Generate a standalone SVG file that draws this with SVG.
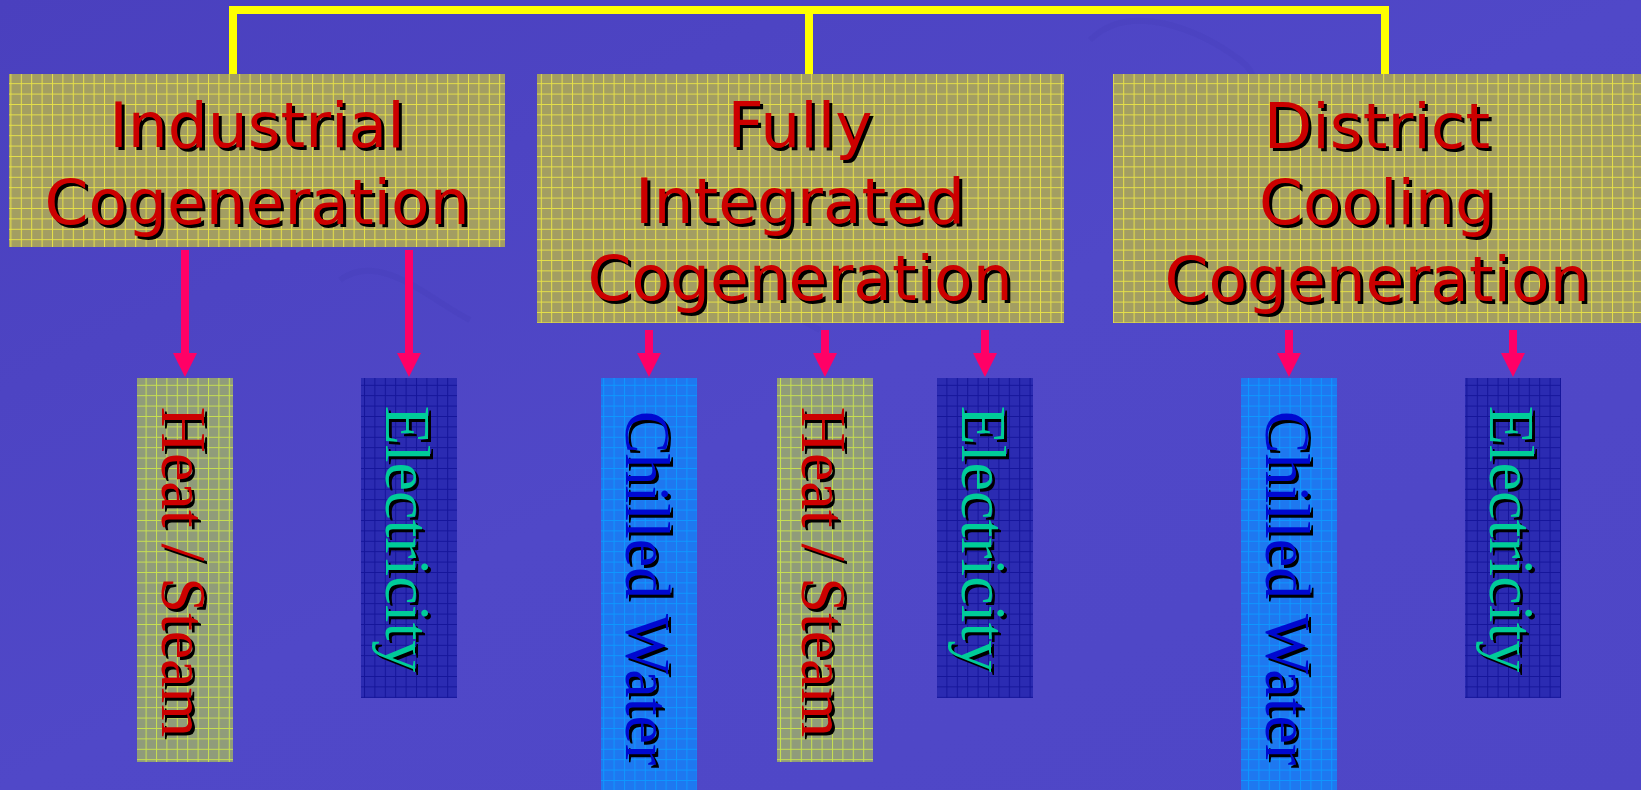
<svg xmlns="http://www.w3.org/2000/svg" width="1641" height="790" viewBox="0 0 1641 790">
  <defs>
    <linearGradient id="bg" x1="0" y1="0" x2="1" y2="1">
      <stop offset="0" stop-color="#4A40BE"/>
      <stop offset="0.5" stop-color="#5048C8"/>
      <stop offset="1" stop-color="#4E46C6"/>
    </linearGradient>
    <pattern id="gridMain" width="10.4" height="10.4" patternUnits="userSpaceOnUse">
      <rect width="10.4" height="10.4" fill="#A39E62"/>
      <path d="M0.5,0 V10.4 M0,0.5 H10.4" stroke="#E6E048" stroke-width="1"/>
    </pattern>
    <pattern id="gridHeat" width="10.4" height="10.4" patternUnits="userSpaceOnUse">
      <rect width="10.4" height="10.4" fill="#909C7A"/>
      <path d="M0.5,0 V10.4 M0,0.5 H10.4" stroke="#C8E050" stroke-width="1"/>
    </pattern>
    <pattern id="gridElec" width="10.4" height="10.4" patternUnits="userSpaceOnUse">
      <rect width="10.4" height="10.4" fill="#2B2BB2"/>
      <path d="M0.5,0 V10.4 M0,0.5 H10.4" stroke="#15159A" stroke-width="1"/>
    </pattern>
    <pattern id="gridChill" width="10.4" height="10.4" patternUnits="userSpaceOnUse">
      <rect width="10.4" height="10.4" fill="#1E78F0"/>
      <path d="M0.5,0 V10.4 M0,0.5 H10.4" stroke="#0E98FF" stroke-width="1"/>
    </pattern>
    <marker id="arrow" viewBox="0 0 24 24" markerWidth="24" markerHeight="24" markerUnits="userSpaceOnUse" refX="0" refY="12" orient="auto">
      <path d="M0,0 L24,12 L0,24 z" fill="#FF0066"/>
    </marker>
  </defs>
  <style>
    .main { font-family: "DejaVu Sans", Verdana, sans-serif; font-size: 63px; text-anchor: middle; }
    .fg { fill: #CC0000; }
    .sh { fill: #000000; }
    .vert { font-family: "Liberation Serif", "Times New Roman", serif; font-size: 64px; text-anchor: middle; }
    .heat { fill: #CC0000; }
    .elec { fill: #00CC99; }
    .chill { fill: #0008D0; }
    .bracket { fill: none; stroke: #FFFF00; stroke-width: 8; }
    .arr { stroke: #FF0066; stroke-width: 8; marker-end: url(#arrow); }
  </style>

  <rect width="1641" height="790" fill="url(#bg)"/>
  <g opacity="0.06" fill="none" stroke="#2A2090" stroke-width="6">
    <path d="M1090,40 C1130,0 1200,30 1240,60 C1280,90 1230,140 1180,120"/>
    <path d="M650,260 C700,240 760,300 820,330"/>
    <path d="M340,280 C380,250 430,300 470,320"/>
  </g>

  <g id="connectors">
    <path class="bracket" d="M233,74 V10 H1385 V74"/>
    <path class="bracket" d="M809,10 V74"/>
    <line class="arr" x1="185" y1="250" x2="185" y2="353"/>
    <line class="arr" x1="409" y1="250" x2="409" y2="353"/>
    <line class="arr" x1="649" y1="330" x2="649" y2="353"/>
    <line class="arr" x1="825" y1="330" x2="825" y2="353"/>
    <line class="arr" x1="985" y1="330" x2="985" y2="353"/>
    <line class="arr" x1="1289" y1="330" x2="1289" y2="353"/>
    <line class="arr" x1="1513" y1="330" x2="1513" y2="353"/>
  </g>

  <g id="industrial">
    <rect x="9" y="74" width="496" height="173" fill="url(#gridMain)"/>
    <text class="main sh" x="260" y="150">Industrial</text>
    <text class="main sh" x="260" y="227">Cogeneration</text>
    <text class="main fg" x="257" y="147">Industrial</text>
    <text class="main fg" x="257" y="224">Cogeneration</text>
  </g>

  <g id="fully-integrated">
    <rect x="537" y="74" width="527" height="249" fill="url(#gridMain)"/>
    <text class="main sh" x="803" y="150">Fully</text>
    <text class="main sh" x="803" y="226">Integrated</text>
    <text class="main sh" x="803" y="303">Cogeneration</text>
    <text class="main fg" x="800" y="147">Fully</text>
    <text class="main fg" x="800" y="223">Integrated</text>
    <text class="main fg" x="800" y="300">Cogeneration</text>
  </g>

  <g id="district-cooling">
    <rect x="1113" y="74" width="528" height="249" fill="url(#gridMain)"/>
    <text class="main sh" x="1380" y="151">District</text>
    <text class="main sh" x="1380" y="227">Cooling</text>
    <text class="main sh" x="1380" y="304">Cogeneration</text>
    <text class="main fg" x="1377" y="148">District</text>
    <text class="main fg" x="1377" y="224">Cooling</text>
    <text class="main fg" x="1377" y="301">Cogeneration</text>
  </g>

  <g id="heat-steam-1">
    <rect x="137" y="378" width="96" height="384" fill="url(#gridHeat)"/>
    <text class="vert sh" transform="translate(165,575) rotate(90)">Heat / Steam</text>
    <text class="vert heat" transform="translate(162,572) rotate(90)">Heat / Steam</text>
  </g>

  <g id="electricity-1">
    <rect x="361" y="378" width="96" height="320" fill="url(#gridElec)"/>
    <text class="vert sh" transform="translate(389,542) rotate(90)">Electricity</text>
    <text class="vert elec" transform="translate(386,539) rotate(90)">Electricity</text>
  </g>

  <g id="chilled-water-1">
    <rect x="601" y="378" width="96" height="412" fill="url(#gridChill)"/>
    <text class="vert sh" transform="translate(629,591) rotate(90)">Chilled Water</text>
    <text class="vert chill" transform="translate(626,588) rotate(90)">Chilled Water</text>
  </g>

  <g id="heat-steam-2">
    <rect x="777" y="378" width="96" height="384" fill="url(#gridHeat)"/>
    <text class="vert sh" transform="translate(805,575) rotate(90)">Heat / Steam</text>
    <text class="vert heat" transform="translate(802,572) rotate(90)">Heat / Steam</text>
  </g>

  <g id="electricity-2">
    <rect x="937" y="378" width="96" height="320" fill="url(#gridElec)"/>
    <text class="vert sh" transform="translate(965,542) rotate(90)">Electricity</text>
    <text class="vert elec" transform="translate(962,539) rotate(90)">Electricity</text>
  </g>

  <g id="chilled-water-2">
    <rect x="1241" y="378" width="96" height="412" fill="url(#gridChill)"/>
    <text class="vert sh" transform="translate(1269,591) rotate(90)">Chilled Water</text>
    <text class="vert chill" transform="translate(1266,588) rotate(90)">Chilled Water</text>
  </g>

  <g id="electricity-3">
    <rect x="1465" y="378" width="96" height="320" fill="url(#gridElec)"/>
    <text class="vert sh" transform="translate(1493,542) rotate(90)">Electricity</text>
    <text class="vert elec" transform="translate(1490,539) rotate(90)">Electricity</text>
  </g>
</svg>
